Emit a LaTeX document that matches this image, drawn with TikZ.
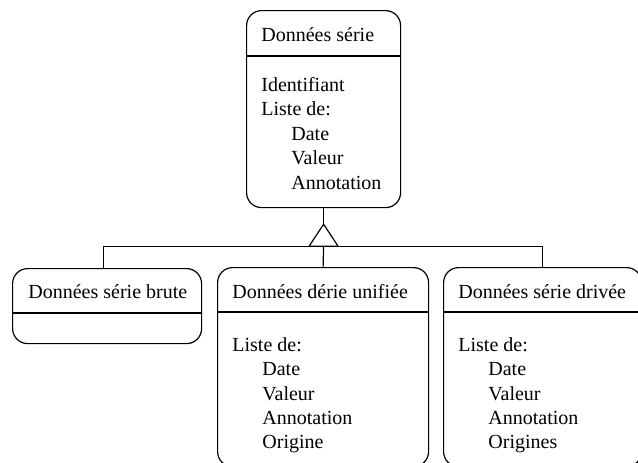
\documentclass[tikz,border=0pt]{standalone}
\usepackage{fontspec}
\setmainfont{Liberation Serif}
\usetikzlibrary{positioning,calc}

\begin{document}
\begin{tikzpicture}[
  x=0.5pt, y=-0.5pt,
  font=\fontsize{10}{12.2}\selectfont,
  classbox/.style={draw, line width=0.6pt, rounded corners=7.5pt,
    anchor=north west, inner sep=0pt},
  header/.style={anchor=base west, inner sep=0pt},
  attrs/.style={anchor=north west, align=left, inner sep=0pt},
  link/.style={line width=0.6pt}
]
\useasboundingbox (0,0) rectangle (638,462);

% classes
\node[classbox, minimum width=77pt, minimum height=98.5pt] (serie) at (246,10) {};
\node[classbox, minimum width=94.5pt, minimum height=37.5pt] (brute) at (12,268) {};
\node[classbox, minimum width=105.5pt, minimum height=99.5pt] (unifiee) at (217,267) {};
\node[classbox, minimum width=99pt, minimum height=99.5pt] (derivee) at (443,267) {};

% headers
\node[header] (serie-h) at ($(serie.north west)+(15,31)$) {Données série};
\node[header] (brute-h) at ($(brute.north west)+(16,30)$) {Données série brute};
\node[header] (unifiee-h) at ($(unifiee.north west)+(15,31)$) {Données dérie unifiée};
\node[header] (derivee-h) at ($(derivee.north west)+(15,31)$) {Données série drivée};

\draw[link] ($(serie.north west)+(0,46)$) -- ($(serie.north east)+(0,46)$);
\foreach \c in {brute,unifiee,derivee}
  \draw[link] ($(\c.north west)+(0,45)$) -- ($(\c.north east)+(0,45)$);

% attributes
\node[attrs] (serie-a) at ($(serie.north west)+(15,67)$)
  {Identifiant\\Liste de:\\\hspace*{15pt}Date\\\hspace*{15pt}Valeur\\\hspace*{15pt}Annotation};
\node[attrs] (unifiee-a) at ($(unifiee.north west)+(15,70)$)
  {Liste de:\\\hspace*{15pt}Date\\\hspace*{15pt}Valeur\\\hspace*{15pt}Annotation\\\hspace*{15pt}Origine};
\node[attrs] (derivee-a) at ($(derivee.north west)+(15,70)$)
  {Liste de:\\\hspace*{15pt}Date\\\hspace*{15pt}Valeur\\\hspace*{15pt}Annotation\\\hspace*{15pt}Origines};

% generalisation
\coordinate (apex) at ($(serie.south)+(0,16)$);
\coordinate (hub) at ($(apex)+(0,22)$);
\coordinate (brute-in) at ($(brute.north)+(-3.5,0)$);
\draw[link] (serie.south) -- (apex);
\draw[link] (apex) -- ++(-14.5,22) -- ++(29,0) -- cycle;
\draw[link] (brute-in) |- (hub) -| (derivee.north);
\draw[link] (hub) -- (unifiee.north);
\end{tikzpicture}
\end{document}
